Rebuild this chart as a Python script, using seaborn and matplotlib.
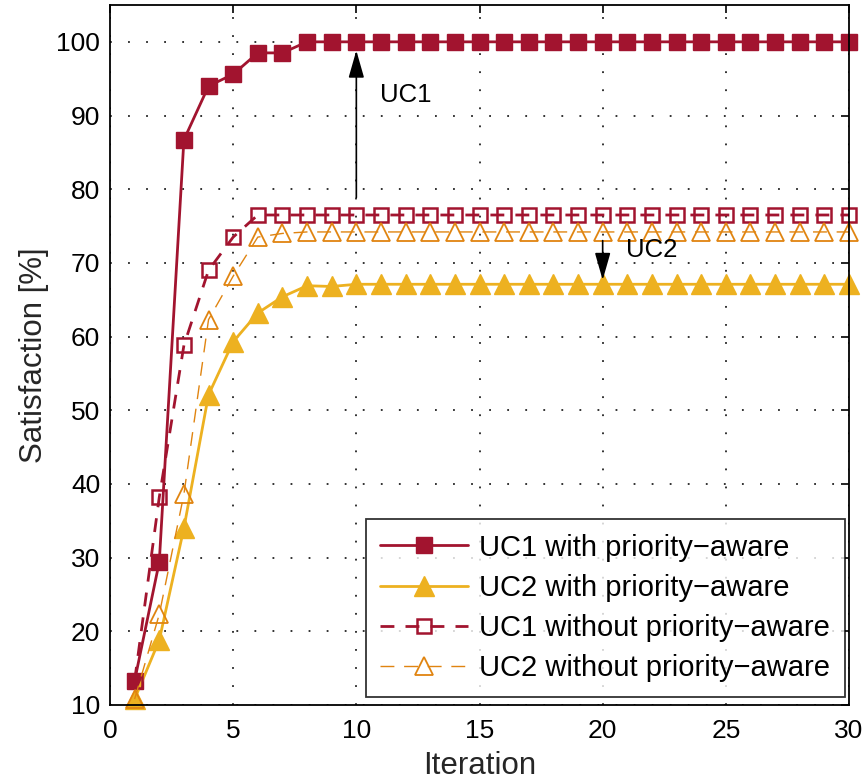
import numpy as np
import pandas as pd
import matplotlib
matplotlib.use("Agg")
import matplotlib.pyplot as plt
import seaborn as sns

iterations = list(range(1, 31))
uc1_with = [13.3, 29.4, 86.7, 94.0, 95.6, 98.5, 98.5] + [100.0] * 23
uc2_with = [10.8, 18.8, 34.0, 52.1, 59.3, 63.2, 65.4, 66.9, 66.8] + [67.1] * 21
uc1_without = [13.3, 38.2, 58.8, 69.0, 73.5] + [76.5] * 25
uc2_without = [10.8, 22.3, 38.6, 62.3, 68.2, 73.5, 74.0] + [74.2] * 23

labels = ["UC1 with priority\u2212aware", "UC2 with priority\u2212aware",
          "UC1 without priority\u2212aware", "UC2 without priority\u2212aware"]

sns.set_theme(style="white")
plt.rcParams['font.family'] = ['Liberation Sans', 'DejaVu Sans']
plt.rcParams['axes.unicode_minus'] = True

RED = "#A2142F"
YEL = "#EDB120"
ORG = "#E08410"

fig = plt.figure(figsize=(8.66, 7.84), dpi=100)
ax = fig.add_axes([110 / 866, 79 / 784, 739 / 866, 700 / 784])

df = pd.DataFrame({"Iteration": iterations, labels[0]: uc1_with, labels[1]: uc2_with,
                   labels[2]: uc1_without, labels[3]: uc2_without})

styles = [
    dict(color=RED, marker="s", markersize=11, mfc=RED, mec=RED, lw=2.0, ls="-"),
    dict(color=YEL, marker="^", markersize=14.5, mfc=YEL, mec=YEL, lw=2.0, ls="-"),
    dict(color=RED, marker="s", markersize=10, mfc="none", mec=RED, mew=1.8, lw=2.0, ls=(0, (5, 4))),
    dict(color=ORG, marker="^", markersize=13.5, mfc="none", mec=ORG, mew=1.3, lw=1.0, ls=(0, (10, 7))),
]
for i in range(4):
    st = styles[i]
    sns.lineplot(data=df, x="Iteration", y=labels[i], ax=ax, label=labels[i],
                 color=st["color"], marker=st["marker"], markersize=st["markersize"],
                 markerfacecolor=st["mfc"], markeredgecolor=st["mec"],
                 markeredgewidth=st.get("mew", 1.0), linewidth=st["lw"], linestyle=st["ls"],
                 clip_on=False)

ax.set_xlim(0, 30)
ax.set_ylim(10, 105)
ax.set_xticks([0, 5, 10, 15, 20, 25, 30])
ax.set_yticks(list(range(10, 101, 10)))
ax.tick_params(axis="both", direction="in", length=6, width=1.2, labelsize=19,
               top=True, right=True, colors="black")
ax.tick_params(axis="x", pad=10)
ax.tick_params(axis="y", pad=7)
ax.grid(True, linestyle=(0, (1, 9)), color="#222222", linewidth=1.3)
for s in ax.spines.values():
    s.set_color("black")
    s.set_linewidth(1.3)
ax.set_xlabel("Iteration", fontsize=22.5, color="#262626", labelpad=6)
ax.set_ylabel("Satisfaction [%]", fontsize=22.5, color="#262626", labelpad=5)

ax.annotate("", xy=(10, 99.2), xytext=(10, 78.5),
            arrowprops=dict(arrowstyle="-|>,head_length=1.4,head_width=0.4", color="black", lw=1.2))
ax.text(10.95, 92.8, "UC1", fontsize=18.5, va="center", color="black")
ax.annotate("", xy=(20, 67.3), xytext=(20, 73.4),
            arrowprops=dict(arrowstyle="-|>,head_length=1.4,head_width=0.4", color="black", lw=1.2))
ax.text(20.95, 71.8, "UC2", fontsize=18.5, va="center", color="black")

h, l = ax.get_legend_handles_labels()
mapping = dict(zip(l, h))
leg = ax.legend([mapping[x] for x in labels], labels, loc="lower right",
                bbox_to_anchor=(1 - 4 / 739, 8 / 700), fontsize=21,
                frameon=True, fancybox=False, edgecolor="black", handlelength=3.0,
                handletextpad=0.4, borderaxespad=0.0, labelspacing=0.42, borderpad=0.5,
                labelcolor="black")
leg.get_frame().set_linewidth(1.3)

fig.savefig("out.png", dpi=100)
